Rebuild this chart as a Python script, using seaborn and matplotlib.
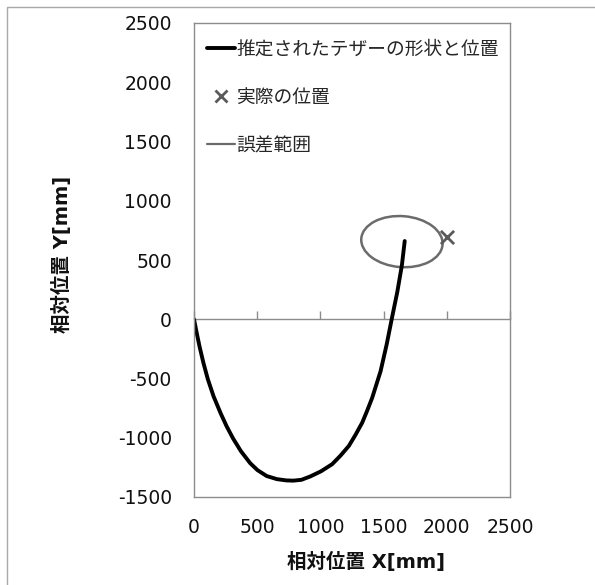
import numpy as np
import pandas as pd
import matplotlib
matplotlib.use("Agg")
import matplotlib.pyplot as plt
import seaborn as sns
from matplotlib.patches import Ellipse, Rectangle
from matplotlib.lines import Line2D

# ---- data ----
tether_x = [0, 21, 44, 74, 110, 155, 211, 258, 308, 371, 444, 502, 575, 655, 730,
            786, 850, 921, 1005, 1093, 1159, 1225, 1278, 1331, 1371, 1410, 1476,
            1524, 1564, 1609, 1645, 1667]
tether_y = [0, -113, -231, -366, -508, -651, -794, -903, -1004, -1113, -1214, -1273,
            -1323, -1349, -1360, -1362, -1355, -1326, -1283, -1223, -1151, -1069,
            -975, -872, -769, -662, -439, -214, 0, 234, 458, 660]
actual_x = [2000]
actual_y = [690]
err_center = (1645, 655)
err_width = 645
err_height = 430
err_angle = -5

labels = ["推定されたテザーの形状と位置", "実際の位置", "誤差範囲"]
xticks = [0, 500, 1000, 1500, 2000, 2500]
yticks = [-1500, -1000, -500, 0, 500, 1000, 1500, 2000, 2500]
xlabel = "相対位置 X[mm]"
ylabel = "相対位置 Y[mm]"

sns.set_theme(style="white")
plt.rcParams['font.family'] = ['DejaVu Sans', 'Noto Sans CJK JP']
plt.rcParams['axes.unicode_minus'] = False

GRAY = "#8c8c8c"
fig = plt.figure(figsize=(5.95, 5.85), dpi=100)
ax = fig.add_axes([194/595, 1-497/585, (510-194)/595, (497-23)/585])

df = pd.DataFrame({"x": tether_x, "y": tether_y})
sns.lineplot(data=df, x="x", y="y", sort=False, estimator=None, color="black",
             linewidth=2.8, ax=ax)
ell = Ellipse(err_center, err_width, err_height, angle=err_angle, fill=False,
              edgecolor="#6b6b6b", linewidth=1.8)
ax.add_patch(ell)
sns.scatterplot(x=actual_x, y=actual_y, marker="x", s=90, color="#5a5a5a",
                linewidth=2.0, ax=ax, zorder=5)

ax.set_xlim(0, 2500)
ax.set_ylim(-1500, 2500)
ax.set_xticks(xticks)
ax.set_yticks(yticks)
for s in ax.spines.values():
    s.set_color(GRAY)
    s.set_linewidth(1.0)
ax.tick_params(axis="x", length=0, pad=15, labelsize=13.5, labelcolor="#111111")
ax.tick_params(axis="y", direction="in", length=6, width=1, color=GRAY, pad=16,
               labelsize=13.5, labelcolor="#111111")

# zero line with upward ticks
sec = ax.secondary_xaxis((0 - (-1500)) / 4000)
sec.set_xticks(xticks)
sec.tick_params(direction="in", length=6, width=1, color=GRAY, labelbottom=False,
                labeltop=False)
sec.spines["bottom"].set_color(GRAY)
sec.spines["bottom"].set_linewidth(1.0)

ax.set_xlabel("")
ax.set_ylabel("")
fig.text(366/595, 1-562/585, xlabel, ha="center", va="center", fontsize=14,
         fontweight="bold", color="#111111")
fig.text(62/595, 1-254/585, ylabel, ha="center", va="center", fontsize=14,
         fontweight="bold", rotation=90, color="#111111")

handles = [Line2D([], [], color="black", linewidth=2.8),
           Line2D([], [], color="#5a5a5a", marker="x", linestyle="none",
                  markersize=9, markeredgewidth=2.0),
           Line2D([], [], color="#6b6b6b", linewidth=1.6)]
ax.legend(handles, labels, loc="upper left", bbox_to_anchor=(0.0, 0.992),
          frameon=False, fontsize=13.5, handlelength=1.5, handletextpad=0.05,
          labelspacing=1.55, borderaxespad=0.3)

fig.add_artist(Rectangle((7/595, -0.1), 1.2, 1.1 - 7/585, transform=fig.transFigure,
                         fill=False, edgecolor="#a8a8a8", linewidth=1.0))

fig.savefig("out.png", dpi=100)
